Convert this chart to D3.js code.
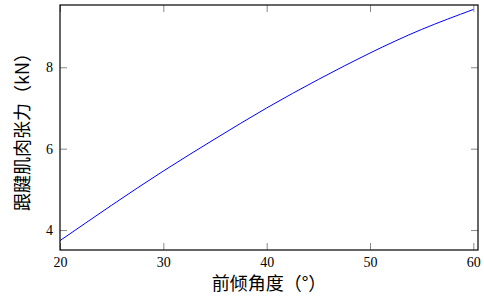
<!DOCTYPE html>
<html>
<head>
    <meta charset="UTF-8" />
    <script src="https://d3js.org/d3.v7.min.js"></script>
    <style>
        body { margin: 0; background: #fff; }
    </style>
</head>
<body>
    <script>
        const angles = [20, 25, 30, 35, 40, 45, 50, 55, 60];
        const tension = [3.74, 4.61, 5.45, 6.24, 7.00, 7.70, 8.35, 8.93, 9.42];
        const xTicks = [20, 30, 40, 50, 60];
        const yTicks = [4, 6, 8];
        const xTitle = "前倾角度（°）";
        const yTitle = "跟腱肌肉张力（kN）";

        const data = angles.map((a, i) => ({ x: a, y: tension[i] }));

        let width = 484;
        let height = 300;
        let margin = { top: 5, right: 6, bottom: 50, left: 60 };

        let svg = d3.select("body")
            .append("svg")
            .attr("width", width)
            .attr("height", height);

        let x = d3.scaleLinear()
            .domain([20, 60.45])
            .range([margin.left, width - margin.right]);

        let y = d3.scaleLinear()
            .domain([3.51, 9.53])
            .range([height - margin.bottom, margin.top]);

        const tickLen = 7;
        const tickColor = "#888";
        const numFont = "Liberation Serif";

        // inward ticks, mirrored on all sides
        const xb = svg.append("g")
            .attr("transform", `translate(0,${height - margin.bottom})`)
            .call(d3.axisBottom(x).tickValues(xTicks).tickSize(-tickLen).tickPadding(7).tickFormat(d3.format("d")));
        const xt = svg.append("g")
            .attr("transform", `translate(0,${margin.top})`)
            .call(d3.axisTop(x).tickValues(xTicks).tickSize(-tickLen).tickFormat(""));
        const yl = svg.append("g")
            .attr("transform", `translate(${margin.left},0)`)
            .call(d3.axisLeft(y).tickValues(yTicks).tickSize(-tickLen).tickPadding(7).tickFormat(d3.format("d")));
        const yr = svg.append("g")
            .attr("transform", `translate(${width - margin.right},0)`)
            .call(d3.axisRight(y).tickValues(yTicks).tickSize(-tickLen).tickFormat(""));

        [xb, xt, yl, yr].forEach(function (g) {
            g.attr("font-family", numFont).attr("font-size", 14);
            g.select(".domain").remove();
            g.selectAll(".tick line").attr("stroke", tickColor).attr("stroke-width", 1);
            g.selectAll(".tick text").attr("fill", "#000");
        });

        svg.append("path")
            .datum(data)
            .attr("fill", "none")
            .attr("stroke", "blue")
            .attr("stroke-width", 1)
            .attr("d", d3.line()
                .curve(d3.curveNatural)
                .x(function (d) { return x(d.x); })
                .y(function (d) { return y(d.y); }));

        // frame
        svg.append("rect")
            .attr("x", margin.left)
            .attr("y", margin.top)
            .attr("width", width - margin.left - margin.right)
            .attr("height", height - margin.top - margin.bottom)
            .attr("fill", "none")
            .attr("stroke", "#000")
            .attr("stroke-width", 1.2);

        const cjk = "'Noto Sans CJK SC', sans-serif";

        svg.append("text")
            .attr("x", (margin.left + width - margin.right) / 2)
            .attr("y", 290)
            .attr("text-anchor", "middle")
            .style("font-family", cjk)
            .style("font-size", "18px")
            .text(xTitle);

        svg.append("text")
            .attr("transform", `translate(29,${(margin.top + height - margin.bottom) / 2}) rotate(-90)`)
            .attr("text-anchor", "middle")
            .style("font-family", cjk)
            .style("font-size", "18px")
            .text(yTitle);
    </script>
</body>
</html>
